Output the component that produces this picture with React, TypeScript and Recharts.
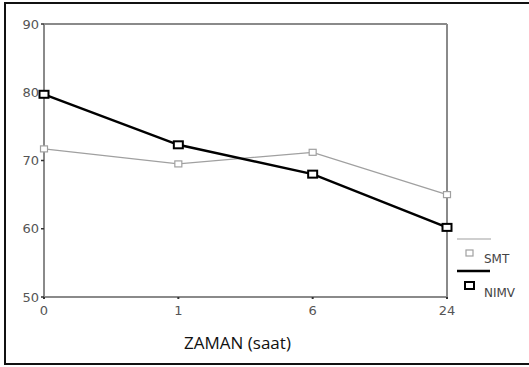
import { Line, LineChart, ReferenceLine, XAxis, YAxis } from 'recharts'

const hours = ['0', '1', '6', '24']
const smt = [71.7, 69.5, 71.2, 65.0]
const nimv = [79.7, 72.3, 68.0, 60.2]
const yTicks = [50, 60, 70, 80, 90]

const data = hours.map((t, i) => ({ t, smt: smt[i], nimv: nimv[i] }))

const GREY = '#a0a0a0'
const AXIS = '#8a8a8a'

function SmtDot(props: any) {
  const { cx, cy } = props
  if (cx == null || cy == null) return null
  return <rect x={cx - 3.5} y={cy - 3} width={7} height={6} fill="#fff" stroke={GREY} strokeWidth={1.2} />
}

function NimvDot(props: any) {
  const { cx, cy } = props
  if (cx == null || cy == null) return null
  return <rect x={cx - 4.5} y={cy - 3.5} width={9} height={7} fill="#fff" stroke="#000" strokeWidth={2} />
}

// hand-drawn legend, SPSS style
function LegendBox() {
  return (
    <svg width={80} height={70} style={{ position: 'absolute', left: 456, top: 236, fontFamily: 'DejaVu Sans, sans-serif' }}>
      <line x1={1} y1={3} x2={35} y2={3} stroke={GREY} strokeWidth={1.2} />
      <rect x={10} y={14} width={7} height={6} fill="#fff" stroke={GREY} strokeWidth={1.2} />
      <text x={28} y={27} fontSize={12} fill="#444">SMT</text>
      <line x1={1} y1={35} x2={34} y2={35} stroke="#000" strokeWidth={2.5} />
      <rect x={9} y={46} width={9} height={7} fill="#fff" stroke="#000" strokeWidth={2} />
      <text x={28} y={61} fontSize={12} fill="#444">NIMV</text>
    </svg>
  )
}

export default function App() {
  return (
    <div style={{ position: 'absolute', left: 0, top: 0, width: 529, height: 367, overflow: 'hidden', background: '#fff' }}>
      <div
        style={{
          position: 'absolute',
          left: 4,
          top: 2,
          width: 540,
          height: 359,
          border: '2px solid #111',
        }}
      />
      <LineChart
        width={529}
        height={367}
        data={data}
        margin={{ top: 24, right: 82, left: 0, bottom: 20 }}
        style={{ position: 'absolute', left: 0, top: 0, fontFamily: 'DejaVu Sans, sans-serif' }}
      >
        <XAxis
          dataKey="t"
          height={50}
          axisLine={{ stroke: AXIS, strokeWidth: 2 }}
          tickLine={{ stroke: '#333', strokeWidth: 2 }}
          tickSize={2}
          tick={{ fill: '#555', fontSize: 13, dy: 5 }}
          label={{ value: 'ZAMAN (saat)', position: 'insideBottom', offset: -2, dx: -8, fill: '#111', fontSize: 17, fontFamily: 'Open Sans, sans-serif' }}
        />
        <YAxis
          domain={[50, 90]}
          ticks={yTicks}
          width={44}
          axisLine={{ stroke: AXIS, strokeWidth: 2 }}
          tickLine={{ stroke: '#333', strokeWidth: 1.5 }}
          tickSize={3}
          tick={{ fill: '#555', fontSize: 13 }}
        />
        <ReferenceLine y={90} stroke={AXIS} strokeWidth={2} />
        <ReferenceLine x="24" stroke={AXIS} strokeWidth={2} />
        <Line
          dataKey="smt"
          stroke={GREY}
          strokeWidth={1.3}
          dot={<SmtDot />}
          activeDot={false}
          isAnimationActive={false}
        />
        <Line
          dataKey="nimv"
          stroke="#000"
          strokeWidth={2.5}
          dot={<NimvDot />}
          activeDot={false}
          isAnimationActive={false}
        />
      </LineChart>
      <LegendBox />
    </div>
  )
}
